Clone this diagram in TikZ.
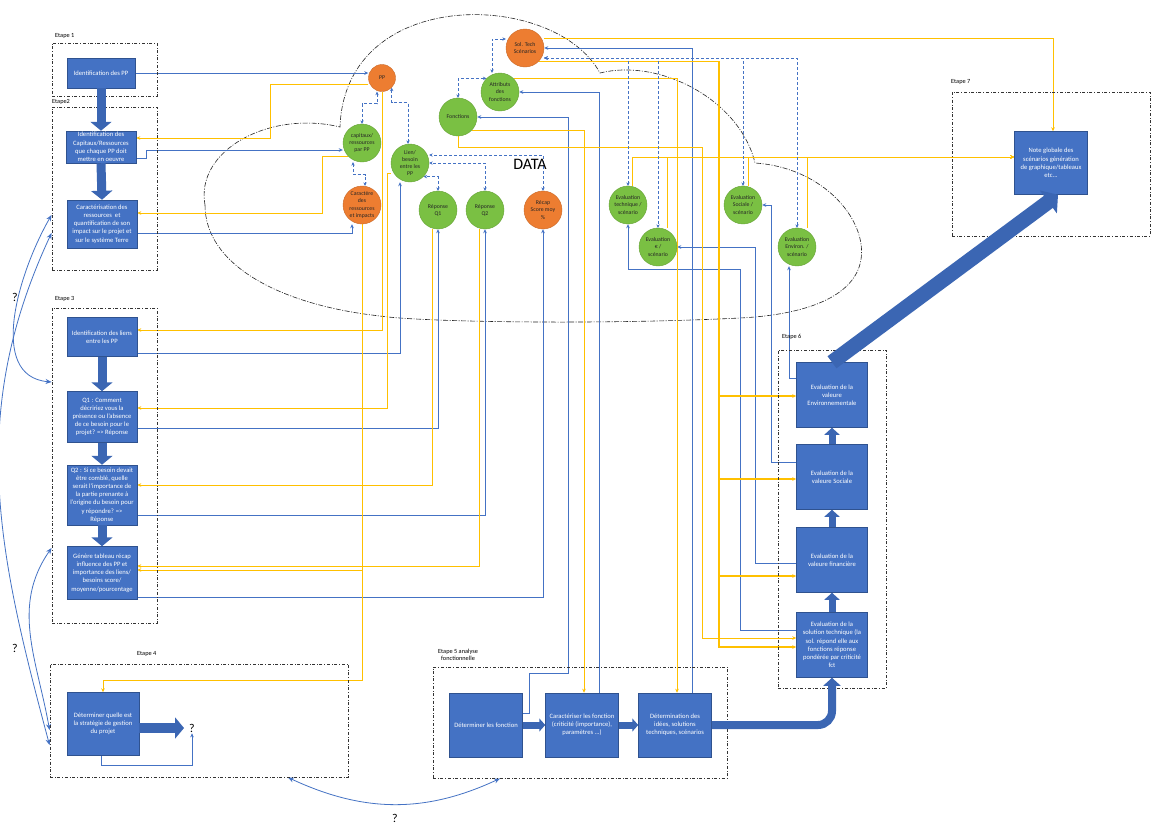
\documentclass[tikz,border=0pt]{standalone}
\usepackage{fontspec}
\setmainfont{Carlito}
\usetikzlibrary{arrows.meta,calc}
\definecolor{boxf}{HTML}{4472C4}
\definecolor{boxb}{HTML}{2F528F}
\definecolor{grn}{HTML}{7AC043}
\definecolor{org}{HTML}{ED7D31}
\definecolor{lbl}{HTML}{4472C4}
\definecolor{ylw}{HTML}{FFC000}
\definecolor{fatc}{HTML}{3B66B3}
\pgfdeclarelayer{bg}
\pgfsetlayers{bg,main}
\tikzset{
  box/.style={draw=boxb, line width=0.5pt, fill=boxf, text=white, align=center, inner sep=1pt, font=\fontsize{6.6}{8.2}\selectfont},
  cg/.style={circle, fill=grn, draw=grn!85!black, line width=0.4pt, minimum size=38pt, inner sep=0pt, align=center, text=black!85, font=\fontsize{5.8}{7.2}\selectfont},
  co/.style={cg, fill=org, draw=org!85!black},
  etape/.style={draw=black!80, dash dot, line width=0.9pt, inner sep=0pt},
  elab/.style={font=\fontsize{6.3}{7.5}\selectfont, anchor=west, inner sep=0pt, align=left},
  bl/.style={draw=lbl, line width=0.8pt, -{Stealth[length=4pt,width=3.6pt]}},
  blr/.style={draw=lbl, line width=0.8pt, {Stealth[length=6pt,width=5pt]}-{Stealth[length=6pt,width=5pt]}},
  yl/.style={draw=ylw, line width=1pt, -{Stealth[length=4pt,width=3.6pt]}},
  ylt/.style={yl, line width=1.6pt},
  dl/.style={draw=lbl, line width=0.8pt, dash pattern=on 3pt off 2pt, {Stealth[length=3.5pt,width=3.4pt]}-{Stealth[length=3.5pt,width=3.4pt]}},
  fat/.style={draw=fatc, line width=9pt, -{Triangle[length=9pt,width=21pt]}},
  fatm/.style={draw=fatc, line width=7pt, -{Triangle[length=7pt,width=15pt]}},
  qm/.style={font=\fontsize{12}{14}\selectfont, inner sep=1pt},
  datal/.style={font=\fontsize{16}{18}\selectfont, inner sep=0pt},
}
\begin{document}
\begin{tikzpicture}[x=1pt,y=-1pt]
\useasboundingbox (0,0) rectangle (1152,825);

% Etape frames
\node[etape, minimum width=105pt, minimum height=53pt] (E1) at (104.5,69.5) {};
\node[etape, minimum width=105pt, minimum height=163pt] (E2) at (104.5,188.5) {};
\node[etape, minimum width=105pt, minimum height=315pt] (E3) at (104.5,465.5) {};
\node[etape, minimum width=298pt, minimum height=113pt] (E4) at (199,720.5) {};
\node[etape, minimum width=294pt, minimum height=111pt] (E5) at (580,722.5) {};
\node[etape, minimum width=108pt, minimum height=338pt] (E6) at (832,519) {};
\node[etape, minimum width=198pt, minimum height=144pt] (E7) at (1051,164) {};

\node[elab] (l1) at (55,36) {Etape 1};
\node[elab] (l2) at (52,102) {Etape2};
\node[elab] (l3) at (55,299) {Etape 3};
\node[elab] (l4) at (137,654) {Etape 4};
\node[elab] (l5) at (438,655) {Etape 5 analyse\\\hspace*{3pt}fonctionnelle};
\node[elab] (l6) at (782,337) {Etape 6};
\node[elab] (l7) at (951,82) {Etape 7};

% boxes
\node[box, minimum width=68pt, minimum height=30pt] (n1) at (101,73) {Identification des PP};
\node[box, minimum width=70pt, minimum height=32pt] (n2) at (101,147) {Identification des\\Capitaux/Ressources\\que chaque PP doit\\mettre en oeuvre};
\node[box, minimum width=70pt, minimum height=48pt] (n3) at (102,224) {Caractérisation des\\ressources \ et\\quantification de son\\impact sur le projet et\\sur le système Terre};
\node[box, minimum width=70pt, minimum height=39pt] (e3a) at (102,337) {Identification des liens\\entre les PP};
\node[box, minimum width=70pt, minimum height=51pt] (q1) at (102,417) {Q1 : Comment\\décririez vous la\\présence ou l'absence\\de ce besoin pour le\\projet? => Réponse};
\node[box, minimum width=70pt, minimum height=60pt] (q2) at (102,495) {Q2 : Si ce besoin devait\\être comblé, quelle\\serait l'importance de\\la partie prenante à\\l'origine du besoin pour\\y répondre? =>\\Réponse};
\node[box, minimum width=70pt, minimum height=53pt] (gen) at (102,573) {Génère tableau récap\\influence des PP et\\importance des liens/\\besoins score/\\moyenne/pourcentage};
\node[box, minimum width=72pt, minimum height=63pt] (e4) at (103,724) {Déterminer quelle est\\la stratégie de gestion\\du projet};
\node[qm] (q4) at (192,728) {?};
\node[box, minimum width=73pt, minimum height=64pt] (df) at (486,725) {Déterminer les fonction};
\node[box, minimum width=73pt, minimum height=64pt] (cf) at (582,725) {Caractériser les fonction\\(criticité (importance),\\paramètres ...)};
\node[box, minimum width=73pt, minimum height=64pt] (dt) at (675,725) {Détermination des\\idées, solutions\\techniques, scénarios};
\node[box, minimum width=71pt, minimum height=65pt] (env6) at (832,395) {Evaluation de la\\valeure\\Environnementale};
\node[box, minimum width=71pt, minimum height=65pt] (soc6) at (832,477) {Evaluation de la\\valeure Sociale};
\node[box, minimum width=71pt, minimum height=65pt] (fin6) at (832,560) {Evaluation de la\\valeure financière};
\node[box, minimum width=71pt, minimum height=65pt] (tech6) at (832,645) {Evaluation de la\\solution technique (la\\sol. répond elle aux\\fonctions réponse\\pondérée par criticité\\fct};
\node[box, minimum width=73pt, minimum height=63pt] (note) at (1051,163) {Note globale des\\scénarios génération\\de graphique/tableaux\\etc...};

% data circles
\node[co, minimum size=27pt] (pp) at (382,78) {PP};
\node[cg] (cap) at (362,143) {capitaux/\\ressources\\par PP};
\node[co] (car) at (362,205) {Caractère\\des\\ressources\\et impacts};
\node[cg] (lien) at (410,163) {Lien/\\besoin\\entre les\\PP};
\node[cg] (rq1) at (438,210) {Réponse\\Q1};
\node[cg] (rq2) at (485,210) {Réponse\\Q2};
\node[co] (recap) at (543,210) {Récap\\Score moy\\\%};
\node[cg] (fonc) at (458,117) {Fonctions};
\node[cg] (attr) at (500,92) {Attributs\\des\\fonctions};
\node[co] (sol) at (525,48) {Sol. Tech\\Scénarios};
\node[cg] (evTech) at (628,205) {Evaluation\\technique /\\scénario};
\node[cg] (evFin) at (658,247) {Evaluation\\€ /\\scénario};
\node[cg] (evSoc) at (743,205) {Evaluation\\Sociale /\\scénario};
\node[cg] (evEnv) at (797,247) {Evaluation\\Environ. /\\scénario};
\node[datal] (data) at (530,164) {DATA};

% question marks
\node[qm] (qa) at (15,297) {?};
\node[qm] (qb) at (15,648) {?};
\node[qm] (qc) at (395,818) {?};

\begin{pgfonlayer}{bg}
\fill[white] (0,0) rectangle (1152,825);
% cloud
\draw[black!85, line width=0.6pt, dash pattern=on 5pt off 1.5pt on 1pt off 1.5pt]
  (205,205) .. controls (195,150) and (270,110) .. (340,127)
  .. controls (345,-15) and (555,-10) .. (600,73)
  .. controls (660,58) and (740,100) .. (755,163)
  .. controls (830,168) and (875,230) .. (858,270)
  .. controls (845,300) and (800,315) .. (740,318)
  .. controls (600,325) and (420,322) .. (380,316)
  .. controls (280,305) and (205,265) .. (205,205) -- cycle;

% blue solid links
\draw[bl] (n1.east) -- (pp.west |- n1.east);
\draw[bl] (n2.east |- 0,158) -| (146,150) -- (cap.west |- 0,150);
\draw[bl] (n3.east |- 0,233) -| ([xshift=-10pt]car.south);
\draw[bl] (e3a.east |- 0,353) -| ([xshift=-10pt]lien.south);
\draw[bl] (q1.east |- 0,428) -| (rq1.south);
\draw[bl] (q2.east |- 0,515) -| (rq2.south);
\draw[bl] (gen.east |- 0,597) -| (recap.south);
\draw[bl] (df.east |- 0,713) -| (529,673) -| (568,117) -- (fonc.east);
\draw[bl] (cf.north -| 599,0) |- (attr.east);
\draw[bl] (dt.north -| 692,0) |- (sol.east);
\draw[bl] (env6.west |- 0,378) -| ([xshift=-8pt]evEnv.south);
\draw[bl] (soc6.west |- 0,462) -| (771,205) -- (evSoc.east);
\draw[bl] (fin6.west |- 0,563) -| (755,247) -- (evFin.east);
\draw[bl] (tech6.west |- 0,630) -| (740,269) -| (evTech.south);
\draw[bl] ([xshift=-2pt]e4.south) |- (q4.south |- 0,765) -- (q4.south);

% yellow links
\draw[yl] (pp.west |- 0,84) -| (270,138) -- (n2.east |- 0,138);
\draw[yl] (cap.south west) -| (322,213) -- (n3.east |- 0,213);
\draw[yl] (pp.south) |- (e3a.east |- 0,330);
\draw[yl] ([yshift=-10pt]lien.west) -| (387,408) -- (q1.east |- 0,408);
\draw[yl] ([xshift=-6pt]rq1.south) |- (q2.east |- 0,485);
\draw[yl] ([xshift=-6pt]rq2.south) |- (gen.east |- 0,566);
\draw[yl] (car.south) |- (gen.east |- 0,570);
\draw[yl] (car.south) |- ([yshift=12pt]e4.north) -- (e4.north);
\draw[yl] (fonc.south east) -| (cf.north -| 584,0);
\draw[yl] (fonc.south) |- (702,147) |- (tech6.west |- 0,638);
\draw[yl] (attr.north east) -| (dt.north -| 677,0);
\draw[yl] ([yshift=10pt]sol.east) -| (note.north -| 1053,0);
\draw[ylt] (sol.south east) -| (719,396) -- (env6.west |- 0,396);
\draw[ylt] (sol.south east) -| (719,479) -- (soc6.west |- 0,479);
\draw[ylt] (sol.south east) -| (719,576) -- (fin6.west |- 0,576);
\draw[ylt] (sol.south east) -| (719,647) -- (tech6.west |- 0,647);
\draw[yl] ([xshift=4pt]evTech.north) |- (note.west |- 0,157);
\draw[yl] ([xshift=9pt]evFin.north) |- (note.west |- 0,157);
\draw[yl] ([xshift=5pt]evSoc.north) |- (note.west |- 0,157);
\draw[yl] ([xshift=10pt]evEnv.north) |- (note.west |- 0,157);

% dashed data links
\draw[dl] (cap.north) |- ([xshift=-5pt,yshift=-12pt]pp.south) -- ([xshift=-5pt]pp.south);
\draw[dl] ([xshift=-9pt]cap.south) |- ([xshift=3pt,yshift=11pt]car.north) -- ([xshift=3pt]car.north);
\draw[dl] (pp.south east) |- ([xshift=-2pt,yshift=41pt]lien.north) -- ([xshift=-2pt]lien.north);
\draw[dl] (rq1.north) |- (lien.south east);
\draw[dl] (rq2.north) |- (lien.east);
\draw[dl] (recap.north) |- ([yshift=8pt]lien.east);
\draw[dl] (fonc.north) |- (attr.north west);
\draw[dl] ([xshift=-8pt]attr.north) |- ([yshift=9pt]sol.west);
\draw[dl] ([yshift=-10pt]sol.east) -| (evTech.north);
\draw[dl] ([yshift=-10pt]sol.east) -| (evFin.north);
\draw[dl] ([yshift=-10pt]sol.east) -| (evSoc.north);
\draw[dl] ([yshift=-10pt]sol.east) -| (evEnv.north);

% curved links between steps
\draw[blr] (E2.west |- 0,215) to[out=240,in=175] (E3.west |- 0,382);
\draw[blr] (E2.west |- 0,233) to[out=245,in=105] (E4.west |- 0,745);
\draw[blr] (E3.west |- 0,548) to[out=235,in=100] (E4.west |- 0,730);
\draw[blr] (E4.south -| 288,0) to[out=-25,in=205] (E5.south -| 500,0);
\end{pgfonlayer}

% thick flow arrows
\draw[fat] (n1.south) -- (n2.north);
\draw[fat] (n2.south) -- (n3.north);
\draw[fat] (e3a.south) -- (q1.north);
\draw[fat] (q1.south) -- (q2.north);
\draw[fat] (q2.south) -- (gen.north);
\draw[fat, line width=10pt] (e4.east |- 0,728) -- ([xshift=-4pt]q4.west);
\draw[fatm, -{Triangle[length=6pt,width=13pt]}] (df.east) -- (cf.west);
\draw[fatm, -{Triangle[length=6pt,width=13pt]}] (cf.east) -- (dt.west);
\draw[fatm, line width=8pt, rounded corners=14pt, -{Triangle[length=8pt,width=17pt]}] (dt.east) -| (tech6.south);
\draw[fatm] (tech6.north) -- (fin6.south);
\draw[fatm] (fin6.north) -- (soc6.south);
\draw[fatm] (soc6.north) -- (env6.south);
\draw[fat, line width=15pt, -{Triangle[length=12pt,width=28pt]}] (env6.north) -- (note.south -| 1058,0);
\end{tikzpicture}
\end{document}
